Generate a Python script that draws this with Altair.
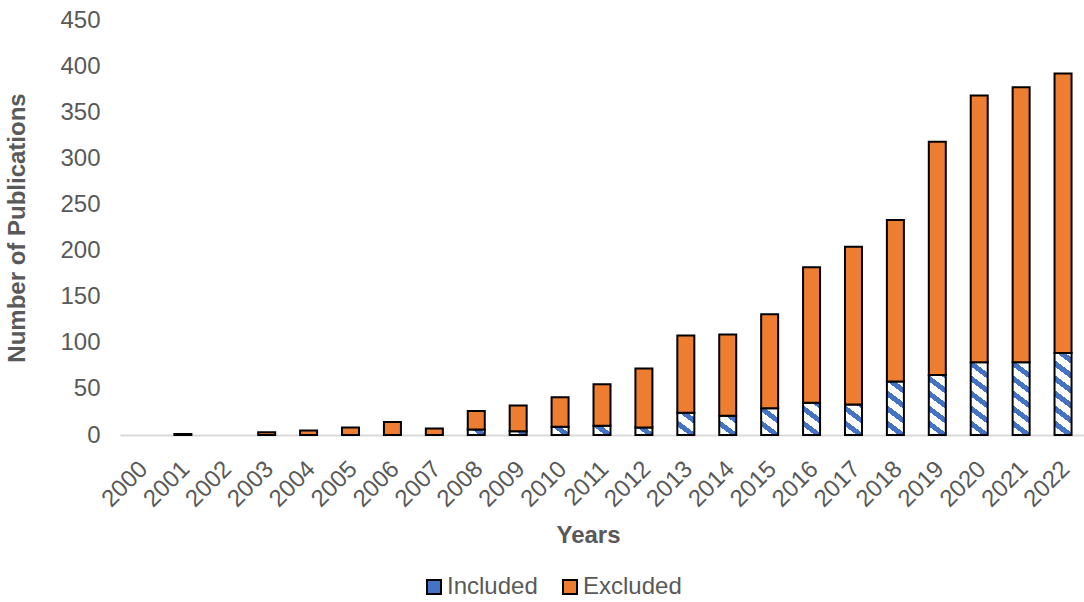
import altair as alt
import pandas as pd

years = [str(y) for y in range(2000, 2023)]
included = [0, 0, 0, 0, 0, 0, 0, 0, 6, 4, 9, 10, 8, 24, 21, 29, 35, 33, 58, 65, 79, 79, 89]
excluded = [0, 1, 0, 3, 5, 8, 14, 7, 20, 28, 32, 45, 64, 84, 88, 102, 147, 171, 175, 253, 289, 298, 303]
series = ["Included", "Excluded"]

df = pd.DataFrame({"Year": years, "inc": included, "exc": excluded})

FONT = "Liberation Sans"
GRAY = "#595959"
BLUE = "#4472C4"
ORANGE = "#ED7D31"
W_PLOT = 964
H_PLOT = 415
YMAX = 450
BAR_W = 17

# diagonal stripe gradient (styling only)
N = 24
PV = 15.0      # vertical stripe period in px
SLOPE = 0.75   # stripe slope (dy/dx)
BLUE_FRAC = 0.42
stops = []
for i in range(N):
    a = i / N
    b = (i + 1 - BLUE_FRAC) / N
    c = (i + 1) / N
    stops.append("{offset:%f,color:'white'}" % a)
    stops.append("{offset:%f,color:'white'}" % b)
    stops.append("{offset:%f,color:'%s'}" % (b, BLUE))
    stops.append("{offset:%f,color:'%s'}" % (c, BLUE))
stops_str = "[" + ",".join(stops) + "]"
h = "(datum.inc*%f)" % (H_PLOT / YMAX)
sw = "%f" % (SLOPE * BAR_W)
k = "(%f/(%s*%s+%s*%s))" % (PV * N, sw, sw, h, h)
grad_expr = "{gradient:'linear',x1:0,y1:1,x2:%s*%s,y2:1-%s*%s,stops:%s}" % (k, sw, k, h, stops_str)

x_enc = alt.X(
    "Year:N",
    sort=years,
    scale=alt.Scale(domain=years, paddingInner=0.58, paddingOuter=0.29),
    axis=alt.Axis(
        title="Years",
        labelAngle=-45,
        labelAlign="right",
        labelBaseline="middle",
        labelFontSize=24,
        labelColor=GRAY,
        labelFont=FONT,
        labelPadding=30,
        labelOffset=3,
        ticks=False,
        tickSize=0,
        domainColor="#d9d9d9",
        domainWidth=2,
        titleFont=FONT,
        titleFontSize=24,
        titleFontWeight="bold",
        titleColor=GRAY,
        titleX=468,
        titleY=100,
        titleAlign="center",
        titleBaseline="middle",
    ),
)

y_scale = alt.Scale(domain=[0, YMAX])
y_axis = alt.Axis(
    title="Number of Publications",
    values=list(range(0, 451, 50)),
    grid=False,
    domain=False,
    ticks=False,
    tickSize=0,
    labelFontSize=24,
    labelColor=GRAY,
    labelFont=FONT,
    labelPadding=20,
    titleFont=FONT,
    titleFontSize=24,
    titleFontWeight="bold",
    titleColor=GRAY,
    titlePadding=30,
)

inc_layer = (
    alt.Chart(df)
    .transform_filter("datum.inc > 0")
    .transform_calculate(grad=grad_expr)
    .mark_bar(size=BAR_W, stroke="black", strokeWidth=2)
    .encode(
        x=x_enc,
        y=alt.Y("inc:Q", scale=y_scale, axis=y_axis),
        fill=alt.Fill("grad:N", scale=None),
    )
)

exc_layer = (
    alt.Chart(df)
    .transform_filter("datum.exc > 0")
    .transform_calculate(top="datum.inc + datum.exc", series="'Excluded'")
    .mark_bar(size=BAR_W, stroke="black", strokeWidth=2)
    .encode(
        x=x_enc,
        y=alt.Y("top:Q", scale=y_scale, axis=y_axis),
        y2="inc:Q",
        color=alt.Color(
            "series:N",
            scale=alt.Scale(domain=series, range=[BLUE, ORANGE]),
            legend=alt.Legend(
                title=None,
                orient="none",
                legendX=302,
                legendY=555,
                direction="horizontal",
                symbolType="square",
                symbolSize=196,
                symbolStrokeColor="black",
                symbolStrokeWidth=2,
                symbolOpacity=1,
                labelFont=FONT,
                labelFontSize=24,
                labelColor=GRAY,
                labelOffset=1,
                columnPadding=20,
                padding=0,
            ),
        ),
        opacity=alt.value(1),
    )
)

chart = (
    alt.layer(inc_layer, exc_layer)
    .properties(
        width=W_PLOT,
        height=H_PLOT,
        autosize=alt.AutoSizeParams(type="none"),
        padding={"left": 120, "top": 20, "right": 0, "bottom": 167},
    )
    .configure_view(stroke=None)
)

chart.save("out.html", embed_options={"renderer": "svg", "actions": False})
